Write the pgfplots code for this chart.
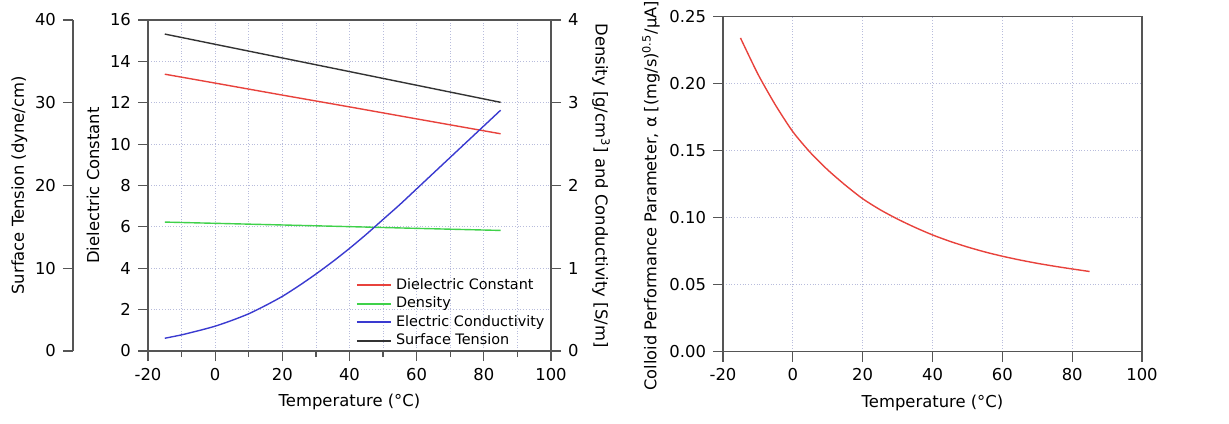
\documentclass[border=0pt]{standalone}
\usepackage{pgfplots}
\pgfplotsset{compat=1.18}
\usepackage{fontspec}
\setmainfont{DejaVu Sans}

\definecolor{axisgray}{HTML}{555555}
\definecolor{gridblue}{HTML}{B8BCDC}
\definecolor{diered}{HTML}{E8423C}
\definecolor{dengreen}{HTML}{3FD14A}
\definecolor{condblue}{HTML}{3A3AD0}
\definecolor{stblack}{HTML}{333333}

\pgfplotsset{
  base/.style={
    scale only axis,
    anchor=south west,
    axis line style={axisgray, line width=0.6pt},
    every tick/.style={axisgray, line width=0.6pt},
    tick align=outside,
    major tick length=5pt,
    minor tick length=3pt,
    grid style={gridblue, densely dotted, line width=0.4pt},
    tick label style={font=\fontsize{8.2}{9}\selectfont},
    label style={font=\fontsize{8.2}{9}\selectfont},
    /pgf/number format/assume math mode=true,
    xmin=-20, xmax=100,
  },
}

\begin{document}
\begin{tikzpicture}
\useasboundingbox (0,0) rectangle (614.5pt,211.5pt);

% main left axis: dielectric constant
\begin{axis}[base,
  at={(74pt,36pt)}, width=201.5pt, height=165.5pt,
  ymin=0, ymax=16,
  xtick={-20,0,...,100}, minor xtick={-10,10,...,90},
  ytick={0,2,...,16},
  xtick pos=bottom, ytick pos=left,
  axis y line*=left, axis x line*=bottom,
  xmajorgrids, xminorgrids, ymajorgrids,
  xlabel={Temperature (°C)},
  ylabel={Dielectric Constant},
  ylabel style={yshift=-1.5pt},
  legend style={draw=none, fill=none, font=\fontsize{7.2}{8.4}\selectfont,
    at={(0.50,0.245)}, anchor=north west, row sep=-1.75pt,
    cells={anchor=west}},
  legend cell align=left,
]
\addlegendimage{color=diered, line width=1pt}
\addlegendentry{Dielectric Constant}
\addlegendimage{color=dengreen, line width=1pt}
\addlegendentry{Density}
\addlegendimage{color=condblue, line width=1pt}
\addlegendentry{Electric Conductivity}
\addlegendimage{color=stblack, line width=1pt}
\addlegendentry{Surface Tension}
\addplot[color=diered, line width=0.7pt, forget plot] coordinates {
  (-15,13.38) (0,12.95) (20,12.37) (40,11.80) (60,11.22) (85,10.50)
};
\draw[axisgray, line width=0.6pt] (rel axis cs:0,1) -- (rel axis cs:1,1);
\end{axis}

% right y axis: density and conductivity
\begin{axis}[base,
  at={(74pt,36pt)}, width=201.5pt, height=165.5pt,
  ymin=0, ymax=4,
  ytick={0,1,...,4},
  axis y line*=right, hide x axis,
  ylabel={Density [g/cm\textsuperscript{3}] and Conductivity [S/m]},
  ylabel style={rotate=180},
]
\addplot[color=dengreen, line width=0.7pt] coordinates {
  (-15,1.558) (10,1.533) (35,1.508) (60,1.482) (85,1.457)
};
\addplot[color=condblue, line width=0.7pt, smooth, tension=0.4] coordinates {
  (-15,0.154) (-10,0.195) (-5,0.245) (0,0.30) (5,0.37) (10,0.45) (15,0.55)
  (20,0.66) (25,0.79) (30,0.93) (35,1.08) (40,1.24) (45,1.41) (50,1.59)
  (55,1.77) (60,1.96) (65,2.15) (70,2.34) (75,2.53) (80,2.72) (85,2.91)
};
\end{axis}

% far left axis: surface tension
\begin{axis}[base,
  at={(74pt,36pt)}, width=201.5pt, height=165.5pt,
  ymin=0, ymax=40,
  ytick={0,10,...,40},
  axis y line*=left, hide x axis,
  axis y line shift=37.5pt,
  ylabel={Surface Tension (dyne/cm)},
  ylabel style={yshift=-3pt},
]
\addplot[color=stblack, line width=0.7pt] coordinates {
  (-15,38.30) (35,34.18) (85,30.05)
};
\end{axis}

% right panel: colloid performance parameter
\begin{axis}[base,
  at={(361.5pt,35.75pt)}, width=209.5pt, height=167.5pt,
  ymin=0, ymax=0.25,
  xtick={-20,0,...,100},
  ytick={0,0.05,...,0.25},
  xtick pos=bottom, ytick pos=left,
  grid=major,
  yticklabel style={/pgf/number format/.cd, fixed, fixed zerofill, precision=2},
  xlabel={Temperature (°C)},
  ylabel={Colloid Performance Parameter, α [(mg/s)\textsuperscript{0.5}/μA]},
  ylabel style={at={(axis description cs:-0.172,0.465)}, anchor=center,
    font=\fontsize{8.1}{9}\selectfont},
]
\addplot[color=diered, line width=0.7pt, smooth, tension=0.4] coordinates {
  (-15,0.234) (-10,0.207) (-5,0.184) (0,0.164) (5,0.1485) (10,0.1355)
  (15,0.1242) (20,0.114) (25,0.1058) (30,0.0988) (35,0.0926) (40,0.087)
  (45,0.0822) (50,0.078) (55,0.0743) (60,0.0711) (65,0.0683) (70,0.0658)
  (75,0.0636) (80,0.0616) (85,0.0597)
};
\end{axis}
\end{tikzpicture}
\end{document}
